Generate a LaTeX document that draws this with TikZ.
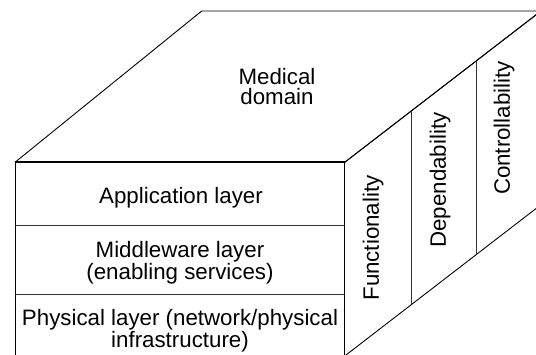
\documentclass[tikz,border=0pt]{standalone}
\usepackage{fontspec}
\setmainfont{Liberation Sans}
\usetikzlibrary{calc}
\tikzset{
  edge/.style={line width=0.9pt, black},
  frontedge/.style={line width=1.8pt, black},
  divider/.style={line width=0.9pt, black!80},
  label/.style={inner sep=0pt, align=center, font=\fontsize{22.3}{20.4}\selectfont},
  sidelabel/.style={label, rotate=90}
}
\begin{document}
\begin{tikzpicture}[x=1pt, y=-1pt]
  \useasboundingbox (0,0) rectangle (536,354);
  \clip (0,0) rectangle (536,354);

  % corners of the block
  \coordinate (A) at (15,162.3);    % front top left
  \coordinate (B) at (344.7,162.3); % front top right
  \coordinate (C) at (541,11);      % back top right
  \coordinate (D) at (201.7,11);    % back top left
  \coordinate (E) at (15,356);      % front bottom left
  \coordinate (F) at (344.7,356);   % front bottom right
  \coordinate (G) at (541,204.7);   % back bottom right

  % top face
  \draw[edge] (A) -- (D) -- (C) -- (B);
  % front face
  \draw[edge] (A) -- (E) -- (F) -- (B);
  \draw[frontedge] (A) -- (B);
  % side face
  \draw[edge] (B) -- (C) -- (G) -- (F);

  % layers of the front face
  \coordinate (L1a) at (15,225.7);
  \coordinate (L1b) at (344.7,225.7);
  \coordinate (L2a) at (15,294.3);
  \coordinate (L2b) at (344.7,294.3);
  \draw[divider] (L1a) -- (L1b);
  \draw[divider] (L2a) -- (L2b);

  % columns of the side face
  \draw[divider] ($(B)!0.3413!(C)$) -- ($(F)!0.3413!(G)$);
  \draw[divider] ($(B)!0.6724!(C)$) -- ($(F)!0.6724!(G)$);

  % labels
  \node[label] (medical) at (277,86.7) {Medical\\domain};
  \node[label] (app) at (181,197.7) {Application layer};
  \node[label] (mid) at (180,263) {Middleware layer\\(enabling services)};
  \node[label] (phys) at (180,330.4) {Physical layer (network/physical\\infrastructure)};

  \node[sidelabel] (func) at (373,238) {Functionality};
  \node[sidelabel] (dep) at (440,180) {Dependability};
  \node[sidelabel] (ctrl) at (504,128) {Controllability};
\end{tikzpicture}
\end{document}
